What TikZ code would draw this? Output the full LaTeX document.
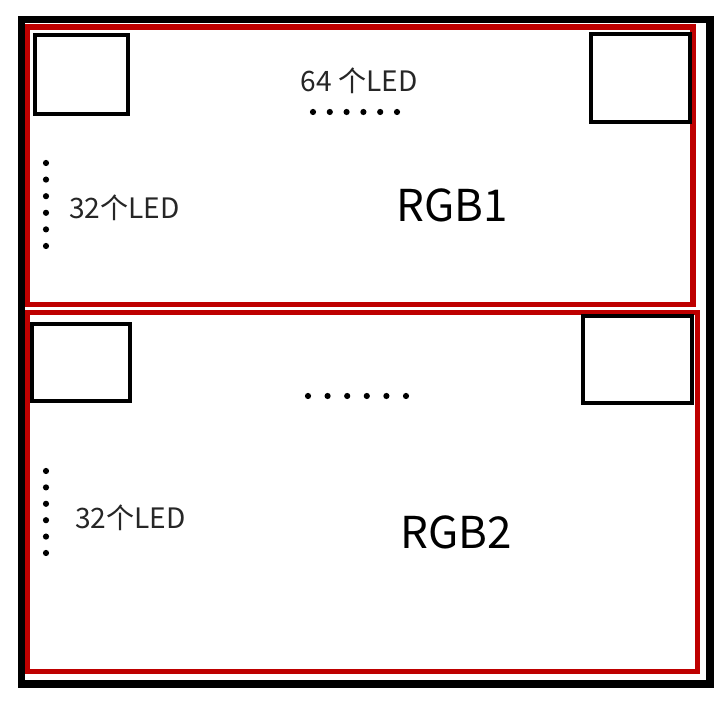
\documentclass[tikz,border=0pt]{standalone}
\usepackage{fontspec}
\setmainfont{Noto Sans CJK SC}
\usetikzlibrary{positioning}
\definecolor{ledred}{HTML}{BE0000}

\begin{document}
\begin{tikzpicture}[
  x=0.2mm, y=-0.2mm,
  frame/.style={draw=black, line width=4.2pt},
  panel/.style={draw=ledred, line width=3.1pt},
  ledbox/.style={draw=black, line width=2.2pt},
  ledcount/.style={inner sep=0pt, font=\fontsize{16}{18}\selectfont, text=black!85},
  panelname/.style={inner sep=0pt, font=\fontsize{25}{28}\selectfont},
]
\useasboundingbox (0,0) rectangle (725,703);
\fill[white] (0,0) rectangle (725,703);

% outer frame and the two panels
\draw[frame] (21.5,19.5) rectangle (710,684);
\draw[panel] (27.5,27) rectangle (693,304.5);
\draw[panel] (27.5,312.5) rectangle (697.5,671.5);

% corner LEDs
\draw[ledbox] (35,35) rectangle (128,114);
\draw[ledbox] (591,34) rectangle (690,122);
\draw[ledbox] (32,324) rectangle (130,401);
\draw[ledbox] (583,316) rectangle (692,403);

% rows and columns of dots
\foreach \i in {0,...,5} {
  \fill (313+16.8*\i,112) circle (3.1);
  \fill (308+19.6*\i,396) circle (3.1);
  \fill (46,163+16.6*\i) circle (3.1);
  \fill (46,471+16.4*\i) circle (3.1);
}

\node[ledcount] (top64) at (359,81) {64 个LED};
\node[ledcount] (col32a) at (124.5,208) {32个LED};
\node[ledcount] (col32b) at (130.5,518) {32个LED};
\node[panelname] (rgb1) at (452,205) {RGB1};
\node[panelname] (rgb2) at (456,532) {RGB2};
\end{tikzpicture}
\end{document}
